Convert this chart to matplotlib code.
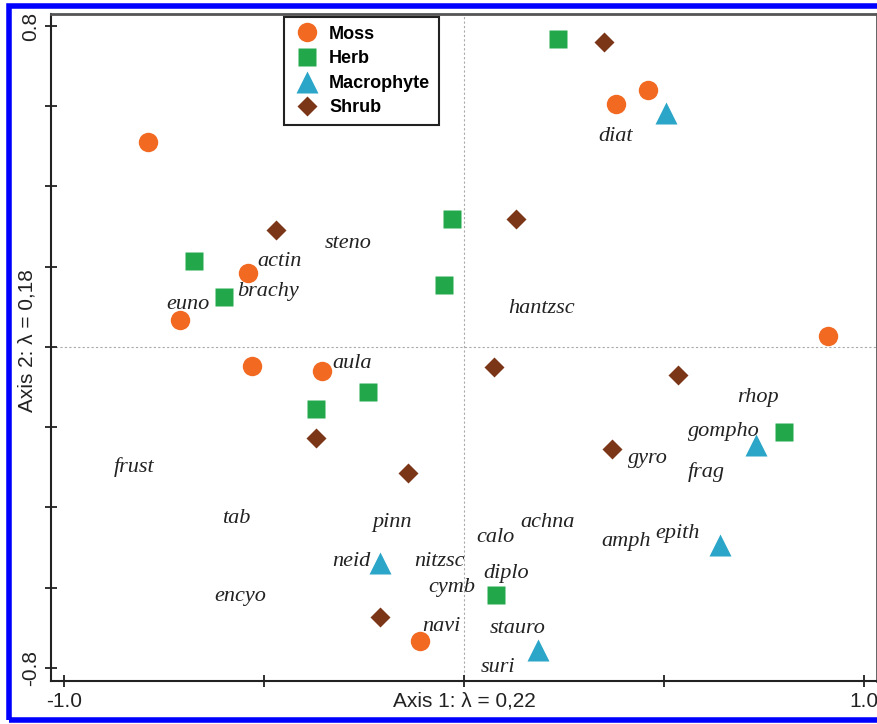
import matplotlib
matplotlib.use("Agg")
import matplotlib.pyplot as plt
from matplotlib.patches import Rectangle

# site scores, per habitat group
moss_x = [-0.79, -0.54, -0.71, -0.53, -0.355, -0.11, 0.38, 0.46, 0.91]
moss_y = [0.51, 0.185, 0.067, -0.047, -0.06, -0.733, 0.606, 0.641, 0.027]
herb_x = [-0.675, -0.60, -0.03, -0.05, 0.235, -0.24, -0.37, 0.08, 0.80]
herb_y = [0.214, 0.125, 0.319, 0.155, 0.768, -0.112, -0.155, -0.618, -0.212]
macro_x = [0.505, -0.21, 0.185, 0.64, 0.73]
macro_y = [0.583, -0.539, -0.756, -0.494, -0.244]
shrub_x = [-0.47, 0.13, 0.35, 0.075, 0.535, 0.37, -0.37, -0.14, -0.21]
shrub_y = [0.292, 0.319, 0.761, -0.05, -0.07, -0.254, -0.227, -0.314, -0.673]

# diatom genus labels
taxa = ["diat", "steno", "actin", "brachy", "euno", "hantzsc", "aula", "frust",
        "tab", "pinn", "neid", "encyo", "nitzsc", "cymb", "navi", "calo",
        "achna", "diplo", "stauro", "suri", "amph", "epith", "gyro", "frag",
        "gompho", "rhop"]
taxa_x = [0.38, -0.29, -0.46, -0.49, -0.69, 0.195, -0.28, -0.825,
          -0.57, -0.18, -0.28, -0.56, -0.06, -0.03, -0.055, 0.08,
          0.21, 0.105, 0.135, 0.085, 0.405, 0.535, 0.46, 0.605,
          0.65, 0.735]
taxa_y = [0.524, 0.257, 0.214, 0.137, 0.105, 0.095, -0.042, -0.299,
          -0.429, -0.439, -0.534, -0.623, -0.536, -0.601, -0.698, -0.476,
          -0.439, -0.566, -0.703, -0.80, -0.484, -0.466, -0.279, -0.312,
          -0.212, -0.125]

fig = plt.figure(figsize=(8.78, 7.24), dpi=100)
ax = fig.add_axes([51/878, 1-681/724, 826/878, 667/724])

ax.axhline(0, color="#aaaaaa", lw=0.8, ls=(0, (2, 2)), zorder=0)
ax.axvline(0, color="#aaaaaa", lw=0.8, ls=(0, (2, 2)), zorder=0)

ax.plot(moss_x, moss_y, "o", ms=14, color="#f26a21", mec="none", label="Moss")
ax.plot(herb_x, herb_y, "s", ms=13, color="#22a84b", mec="none", label="Herb")
ax.plot(macro_x, macro_y, "^", ms=15.5, color="#2ba6c9", mec="none", label="Macrophyte")
ax.plot(shrub_x, shrub_y, "D", ms=10.5, color="#7b3517", mec="none", label="Shrub")

for t, x, y in zip(taxa, taxa_x, taxa_y):
    ax.text(x, y, t, ha="center", va="center", fontsize=16, style="italic",
            family="Liberation Serif", color="#222222")

ax.set_xlim(-1.032, 1.033)
ax.set_ylim(-0.833, 0.83)
ax.set_xticks([-1, -0.5, 0, 0.5, 1])
ax.set_xticklabels(["-1.0", "", "", "", "1.0"], family="Liberation Sans")
ax.set_yticks([-0.8, -0.6, -0.4, -0.2, 0, 0.2, 0.4, 0.6, 0.8])
ax.set_yticklabels(["-0.8", "", "", "", "", "", "", "", "0.8"], rotation=90,
                   va="center", family="Liberation Sans")
ax.tick_params(direction="inout", length=8, width=1.3, labelsize=15, colors="#222222", pad=4)

for s in ["left", "bottom"]:
    ax.spines[s].set_linewidth(1.5)
    ax.spines[s].set_color("#222222")
for s in ["top", "right"]:
    ax.spines[s].set_linewidth(2)
    ax.spines[s].set_color("#555555")

ax.set_xlabel("Axis 1: λ = 0,22", fontsize=15, color="#222222", family="Liberation Sans")
ax.xaxis.set_label_coords(0.5, -0.016)
ax.set_ylabel("Axis 2: λ = 0,18", fontsize=15, color="#222222", family="Liberation Sans")
ax.yaxis.set_label_coords(-0.018, 0.51)

leg = ax.legend(loc="upper left", bbox_to_anchor=(0.282, 0.996), borderaxespad=0,
                fancybox=False, framealpha=1, edgecolor="#222222",
                prop={"family": "Liberation Sans", "weight": "bold", "size": 13},
                handletextpad=0.5, labelspacing=0.42, borderpad=0.5,
                handlelength=1.5, numpoints=1)
leg.get_frame().set_linewidth(1.5)

fig.add_artist(Rectangle((9.5/878, 4/724), 880/878, (718.2-4)/724,
                         transform=fig.transFigure, fill=False,
                         edgecolor="#0000ff", lw=4))

fig.savefig("out.png", dpi=100)
